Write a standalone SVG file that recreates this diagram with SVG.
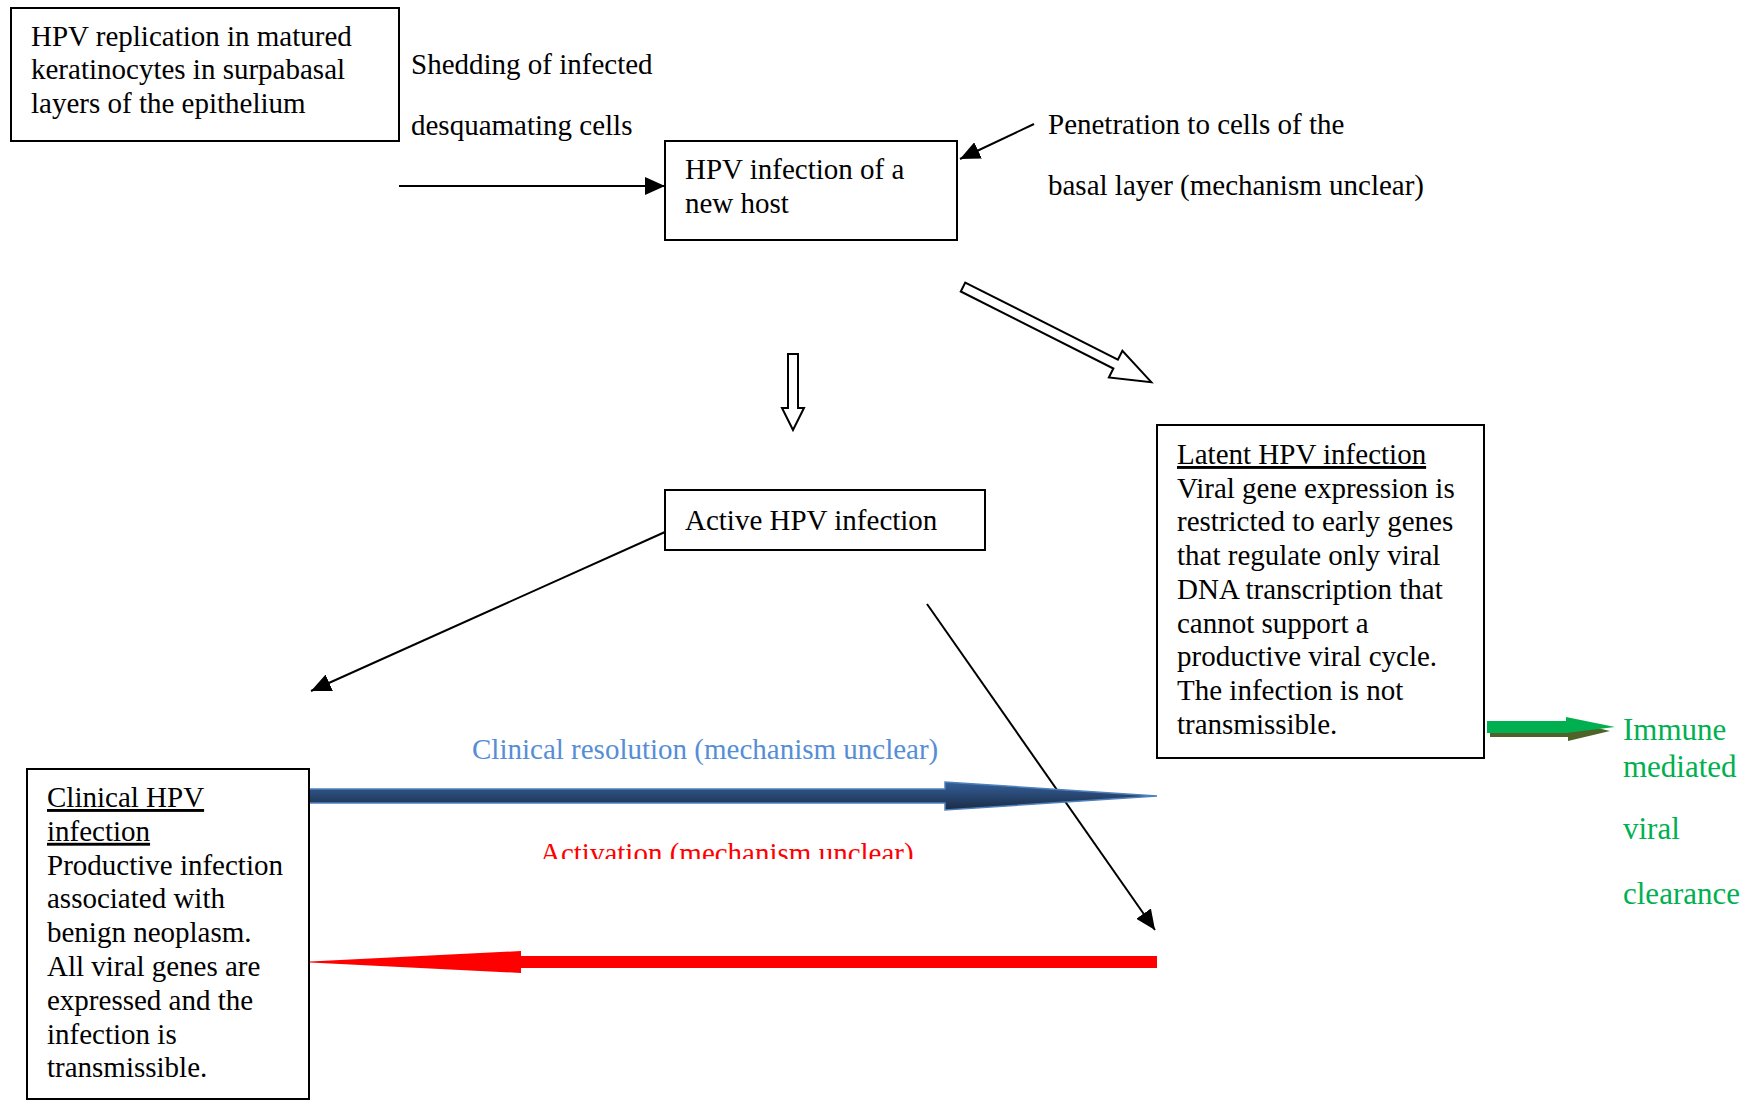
<svg xmlns="http://www.w3.org/2000/svg" width="1753" height="1103" viewBox="0 0 1753 1103">
<style>
.box{fill:#fff;stroke:#000;stroke-width:2}
.t{font-family:"Liberation Serif","Times New Roman",serif;font-size:29px;fill:#000}
.u{text-decoration:underline}
.g{font-family:"Liberation Serif","Times New Roman",serif;font-size:31px;fill:#00B050}
.ln{stroke:#000;stroke-width:2;fill:none}
.hollow{fill:#fff;stroke:#000;stroke-width:2;stroke-linejoin:miter}
</style>
<defs>
<marker id="ah" markerUnits="userSpaceOnUse" markerWidth="22" markerHeight="18" refX="20" refY="9" orient="auto">
<path d="M0,0 L20,9 L0,18 Z" fill="#000"/>
</marker>
<linearGradient id="blueg" x1="0" y1="0" x2="0" y2="1">
<stop offset="0" stop-color="#34609A"/>
<stop offset="1" stop-color="#1B2B45"/>
</linearGradient>
<clipPath id="actclip"><rect x="500" y="820" width="460" height="39"/></clipPath>
</defs>
<rect width="1753" height="1103" fill="#fff"/>

<g id="connectors">
<line class="ln" x1="399" y1="186" x2="665" y2="186" marker-end="url(#ah)"/>
<line class="ln" x1="1034" y1="124" x2="960" y2="159" marker-end="url(#ah)"/>
<polygon class="hollow" transform="translate(963,287) rotate(26.8)" points="0,-5 171,-5 171,-15 211,0 171,15 171,5 0,5"/>
<polygon class="hollow" points="788,354 798,354 798,408 804,408 793,430 782,408 788,408"/>
<line class="ln" x1="665" y1="532" x2="311" y2="691" marker-end="url(#ah)"/>
<line class="ln" x1="927" y1="604" x2="1155" y2="930" marker-end="url(#ah)"/>
<polygon points="309,789 945,789 945,782 1157,796 945,810 945,803 309,803" fill="url(#blueg)" stroke="#4F81BD" stroke-width="1.5"/>
<polygon points="1157,956 521,956 521,951 300,962 521,973 521,968 1157,968" fill="#FF0000"/>
<polygon points="1490,725 1568,725 1568,721 1610,731 1568,741 1568,737 1490,737" fill="#4F6228"/>
<polygon points="1487,721 1566,721 1566,717 1615,727 1566,733 1487,733" fill="#00B050"/>
</g>

<g id="replication">
<rect class="box" x="11" y="8" width="388" height="133"/>
<text class="t" x="31" y="46">HPV replication in matured</text>
<text class="t" x="31" y="79">keratinocytes in surpabasal</text>
<text class="t" x="31" y="113">layers of the epithelium</text>
</g>

<g id="shedding-label">
<text class="t" x="411" y="74">Shedding of infected</text>
<text class="t" x="411" y="135">desquamating cells</text>
</g>

<g id="new-host">
<rect class="box" x="665" y="141" width="292" height="99"/>
<text class="t" x="685" y="179">HPV infection of a</text>
<text class="t" x="685" y="213">new host</text>
</g>

<g id="penetration-label">
<text class="t" x="1048" y="134">Penetration to cells of the</text>
<text class="t" x="1048" y="195">basal layer (mechanism unclear)</text>
</g>

<g id="active">
<rect class="box" x="665" y="490" width="320" height="60"/>
<text class="t" x="685" y="530">Active HPV infection</text>
</g>

<g id="latent">
<rect class="box" x="1157" y="425" width="327" height="333"/>
<text class="t u" x="1177" y="464">Latent HPV infection</text>
<text class="t" x="1177" y="497.7">Viral gene expression is</text>
<text class="t" x="1177" y="531.4">restricted to early genes</text>
<text class="t" x="1177" y="565.1">that regulate only viral</text>
<text class="t" x="1177" y="598.8">DNA transcription that</text>
<text class="t" x="1177" y="632.5">cannot support a</text>
<text class="t" x="1177" y="666.2">productive viral cycle.</text>
<text class="t" x="1177" y="699.9">The infection is not</text>
<text class="t" x="1177" y="733.6">transmissible.</text>
</g>

<g id="clinical">
<rect class="box" x="27" y="769" width="282" height="330"/>
<text class="t u" x="47" y="807">Clinical HPV</text>
<text class="t u" x="47" y="840.8">infection</text>
<text class="t" x="47" y="874.6">Productive infection</text>
<text class="t" x="47" y="908.4">associated with</text>
<text class="t" x="47" y="942.2">benign neoplasm.</text>
<text class="t" x="47" y="976">All viral genes are</text>
<text class="t" x="47" y="1009.8">expressed and the</text>
<text class="t" x="47" y="1043.6">infection is</text>
<text class="t" x="47" y="1077.4">transmissible.</text>
</g>

<g id="resolution-label">
<text class="t" x="472" y="759" style="fill:#558ED5">Clinical resolution (mechanism unclear)</text>
</g>

<g id="activation-label" clip-path="url(#actclip)">
<text class="t" x="540" y="863" style="fill:#FF0000">Activation (mechanism unclear)</text>
</g>

<g id="clearance">
<text class="g" x="1623" y="740">Immune</text>
<text class="g" x="1623" y="777">mediated</text>
<text class="g" x="1623" y="839">viral</text>
<text class="g" x="1623" y="904">clearance</text>
</g>
</svg>
